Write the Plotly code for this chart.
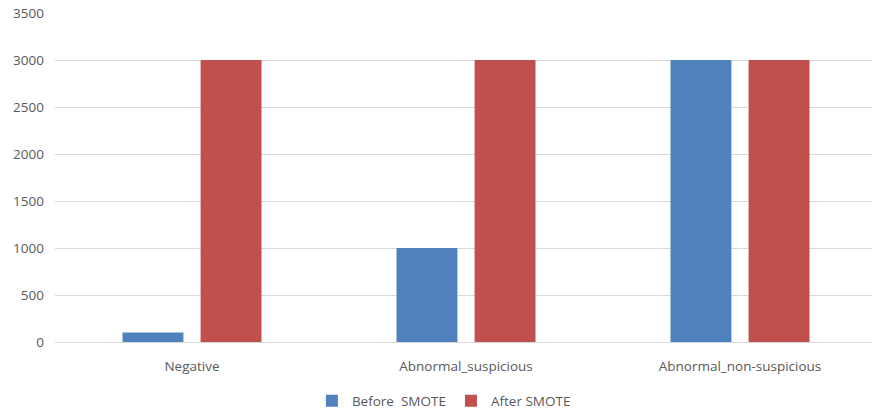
import plotly.graph_objects as go

categories = ["Negative", "Abnormal_suspicious", "Abnormal_non-suspicious"]
before_smote = [100, 1000, 3000]
after_smote = [3000, 3000, 3000]
y_ticks = [0, 500, 1000, 1500, 2000, 2500, 3000, 3500]

BLUE = "#4F81BD"
RED = "#C0504D"
TEXT = "#595959"
FONT = "Open Sans"

fig = go.Figure()
fig.add_trace(go.Bar(name="Before  SMOTE", x=categories, y=before_smote,
                     marker=dict(color=BLUE, line=dict(width=0))))
fig.add_trace(go.Bar(name="After SMOTE", x=categories, y=after_smote,
                     marker=dict(color=RED, line=dict(width=0))))

fig.update_layout(
    width=872, height=412,
    margin=dict(l=55, r=0, t=13, b=70, autoexpand=False),
    paper_bgcolor="white", plot_bgcolor="white",
    barmode="group", bargap=0.43, bargroupgap=0.22,
    font=dict(family=FONT, size=13, color=TEXT),
    showlegend=True,
    legend=dict(orientation="h", x=0.476, xanchor="center",
                yref="container", y=0.027, yanchor="middle",
                font=dict(family=FONT, size=13.5, color=TEXT),
                itemwidth=30, traceorder="normal"),
    xaxis=dict(range=[-0.5, -0.5 + 817 / 274], showgrid=False, showline=False,
               ticks="", automargin=False, ticklabelstandoff=14,
               tickfont=dict(size=13.5, color=TEXT)),
    yaxis=dict(range=[0, 3500], tickvals=y_ticks, showgrid=True,
               gridcolor="#D9D9D9", gridwidth=1, zeroline=True,
               zerolinecolor="#D9D9D9", zerolinewidth=1, showline=False,
               ticks="", ticklabelstandoff=10, automargin=False,
               tickfont=dict(size=13.5, color=TEXT)),
)

fig.write_html("out.html")
